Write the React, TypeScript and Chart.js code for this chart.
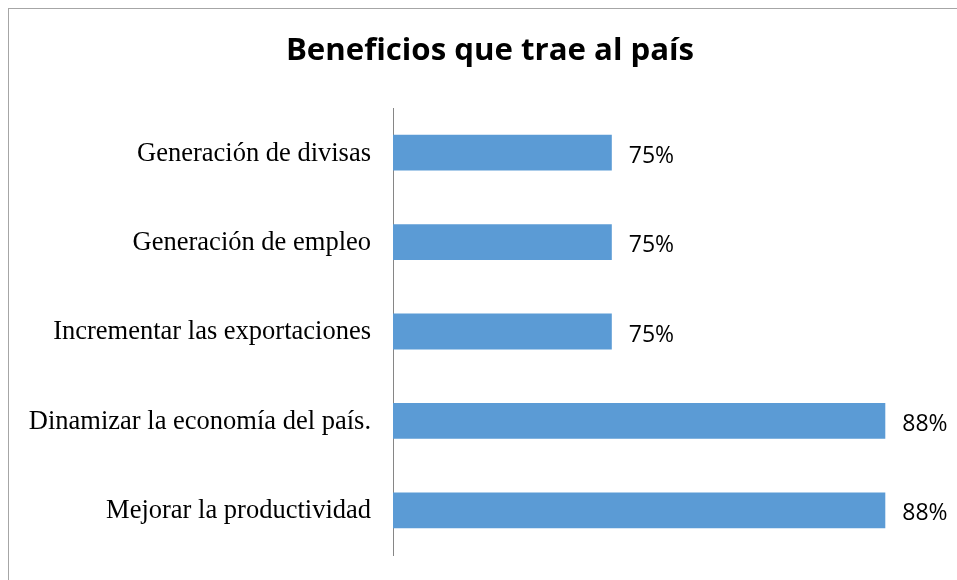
import React, { useEffect, useRef } from "react";
import { Chart, registerables } from "chart.js";

Chart.register(...registerables);

const categories = [
  "Generación de divisas",
  "Generación de empleo",
  "Incrementar las exportaciones",
  "Dinamizar la economía del país.",
  "Mejorar la productividad",
];
const values = [75, 75, 75, 87.5, 87.5];
const titleText = "Beneficios que trae al país";
const axisMin = 65;
const axisMax = 90;

const labelPlugin = {
  id: "barLabels",
  afterDatasetsDraw(chart: any) {
    const ctx = chart.ctx;
    const meta = chart.getDatasetMeta(0);
    ctx.save();
    ctx.font = "23px 'Open Sans'";
    ctx.fillStyle = "#000000";
    ctx.textAlign = "left";
    ctx.textBaseline = "alphabetic";
    meta.data.forEach((bar: any, i: number) => {
      const v = chart.data.datasets[0].data[i];
      ctx.fillText(Math.round(v) + "%", bar.x + 17, bar.y + 10);
    });
    ctx.restore();
  },
};

const titlePlugin = {
  id: "centerTitle",
  afterDraw(chart: any) {
    const ctx = chart.ctx;
    ctx.save();
    ctx.font = "bold 31.2px 'Open Sans'";
    ctx.fillStyle = "#000000";
    ctx.textAlign = "center";
    ctx.textBaseline = "alphabetic";
    ctx.fillText(titleText, chart.width / 2, 51);
    ctx.restore();
  },
};

export default function App() {
  const ref = useRef<HTMLCanvasElement>(null);
  useEffect(() => {
    if (!ref.current) return;
    const chart = new Chart(ref.current, {
      type: "bar",
      data: {
        labels: categories,
        datasets: [
          {
            data: values,
            backgroundColor: "#5B9BD5",
            borderWidth: 0,
            categoryPercentage: 1,
            barPercentage: 0.4,
          },
        ],
      },
      options: {
        indexAxis: "y",
        animation: false,
        responsive: false,
        maintainAspectRatio: false,
        layout: { padding: { left: 0, right: 31, top: 99, bottom: 54 } },
        plugins: {
          legend: { display: false },
          tooltip: { enabled: false },
          title: { display: false },
        },
        scales: {
          x: {
            display: false,
            min: axisMin,
            max: axisMax,
          },
          y: {
            grid: { display: false, drawTicks: false },
            border: { display: true, color: "#868686", width: 1 },
            ticks: {
              color: "#000000",
              padding: 22,
              labelOffset: 1,
              font: { family: "'Liberation Serif'", size: 26.5 },
            },
            afterFit(scale: any) {
              scale.width = 384;
            },
          },
        },
      },
      plugins: [labelPlugin, titlePlugin],
    });
    return () => chart.destroy();
  }, []);

  return (
    <div
      style={{
        position: "fixed",
        left: 8,
        top: 8,
        right: 0,
        bottom: 0,
        overflow: "hidden",
        background: "#fff",
      }}
    >
      <div
        style={{
          border: "1px solid #a6a6a6",
          width: 962,
          height: 600,
          boxSizing: "content-box",
        }}
      >
        <canvas ref={ref} width={962} height={600} style={{ display: "block" }} />
      </div>
    </div>
  );
}
